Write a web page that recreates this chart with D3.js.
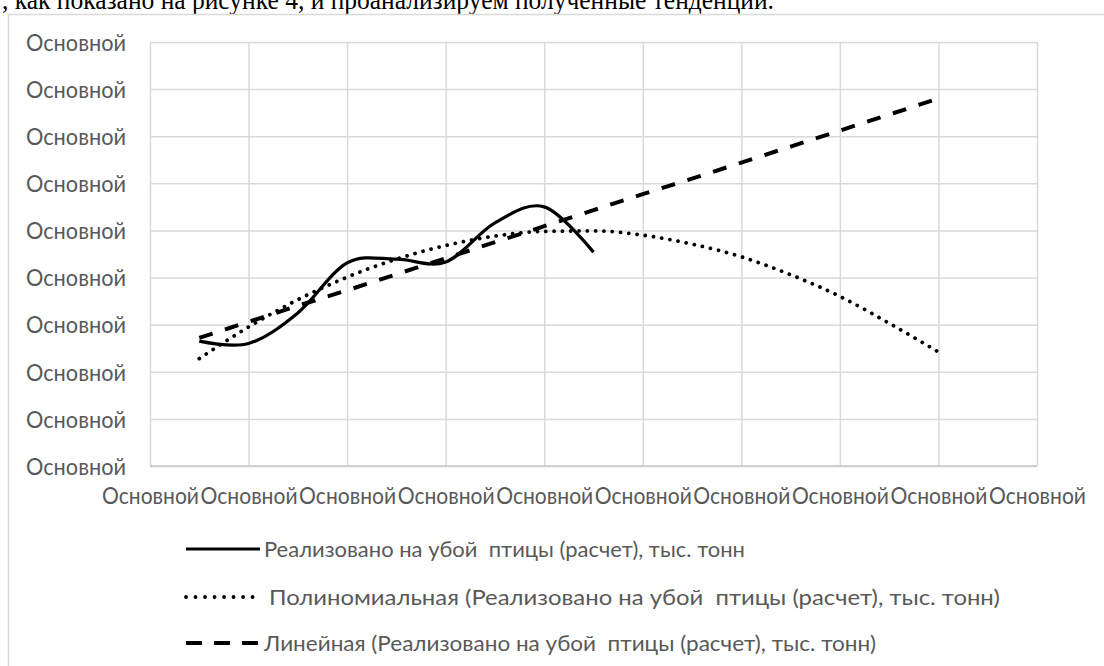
<!DOCTYPE html>
<html>
<head>
<meta charset="utf-8">
<script src="https://cdn.jsdelivr.net/npm/d3@7"></script>
<style>
  html, body { margin: 0; padding: 0; background: #fff; overflow: hidden; }
  svg { display: block; }
  text { white-space: pre; }
</style>
</head>
<body>
<svg id="chart" width="1104" height="666"></svg>
<script>
// ---- data ----
const xTickValues = [0, 2, 4, 6, 8, 10, 12, 14, 16, 18];
const xTickLabels = ["Основной","Основной","Основной","Основной","Основной","Основной","Основной","Основной","Основной","Основной"];
const yTickValues = [0, 1, 2, 3, 4, 5, 6, 7, 8, 9];
const yTickLabels = ["Основной","Основной","Основной","Основной","Основной","Основной","Основной","Основной","Основной","Основной"];

const periods = [1, 2, 3, 4, 5, 6, 7, 8, 9];
const actualValues = [2.65, 2.60, 3.25, 4.31, 4.39, 4.33, 5.16, 5.50, 4.54];

const trendPeriods = [1, 2, 3, 4, 5, 6, 7, 8, 9, 10, 11, 12, 13, 14, 15, 16];
const polyTrendValues = [2.28, 2.95, 3.53, 4.01, 4.39, 4.68, 4.88, 4.98, 4.99, 4.90, 4.71, 4.44, 4.06, 3.60, 3.03, 2.42];
const linearTrendValues = [2.72, 3.06, 3.40, 3.73, 4.07, 4.41, 4.75, 5.09, 5.43, 5.77, 6.10, 6.44, 6.78, 7.12, 7.46, 7.80];

const seriesNames = [
  "Реализовано на убой  птицы (расчет), тыс. тонн",
  "Полиномиальная (Реализовано на убой  птицы (расчет), тыс. тонн)",
  "Линейная (Реализовано на убой  птицы (расчет), тыс. тонн)"
];
const captionText = ", как показано на рисунке 4, и проанализируем полученные тенденции.";

// ---- drawing ----
const svg = d3.select("#chart");
const labelFont = "Lato, 'Open Sans', 'DejaVu Sans', sans-serif";
const gray = "#595959";

// text line from the document above the chart (cut off by the top edge)
svg.append("text")
  .attr("x", 2).attr("y", 9)
  .attr("font-family", "'Liberation Serif', 'Times New Roman', serif")
  .attr("font-size", 27)
  .attr("fill", "#000")
  .attr("textLength", 772).attr("lengthAdjust", "spacingAndGlyphs")
  .text(captionText);

// chart area border
svg.append("rect")
  .attr("x", 8.5).attr("y", 14.5)
  .attr("width", 1200).attr("height", 800)
  .attr("fill", "#fff")
  .attr("stroke", "#d9d9d9").attr("stroke-width", 1.5);

const x = d3.scaleLinear().domain([0, 18]).range([150, 1037]);
const y = d3.scaleLinear().domain([0, 9]).range([466, 42]);

// gridlines
const gridX = d3.axisBottom(x).tickValues(xTickValues).tickSize(-(466 - 42)).tickFormat("");
const gridY = d3.axisLeft(y).tickValues(yTickValues).tickSize(-(1037 - 150)).tickFormat("");
const gx = svg.append("g").attr("transform", "translate(0,466)").call(gridX);
const gy = svg.append("g").attr("transform", "translate(150,0)").call(gridY);
[gx, gy].forEach(g => {
  g.select(".domain").remove();
  g.selectAll(".tick line").attr("stroke", "#d9d9d9").attr("stroke-width", 1.5);
});
// horizontal axis line
svg.append("line")
  .attr("x1", x(0)).attr("x2", x(18))
  .attr("y1", y(0)).attr("y2", y(0))
  .attr("stroke", "#c6c6c6").attr("stroke-width", 1.5);

// axis labels
const xAxis = d3.axisBottom(x).tickValues(xTickValues)
  .tickSize(0).tickPadding(0)
  .tickFormat((d, i) => xTickLabels[i]);
const xa = svg.append("g").attr("transform", "translate(0,466)").call(xAxis);
xa.select(".domain").remove();
xa.selectAll(".tick text")
  .attr("y", 38).attr("dy", 0)
  .attr("font-family", labelFont).attr("font-size", 24)
  .attr("fill", gray)
  .attr("textLength", 97).attr("lengthAdjust", "spacingAndGlyphs");

const yAxis = d3.axisLeft(y).tickValues(yTickValues)
  .tickSize(0).tickPadding(0)
  .tickFormat((d, i) => yTickLabels[i]);
const ya = svg.append("g").attr("transform", "translate(126,0)").call(yAxis);
ya.select(".domain").remove();
ya.selectAll(".tick text")
  .attr("x", 0).attr("dy", "0.36em")
  .attr("font-family", labelFont).attr("font-size", 23)
  .attr("fill", gray)
  .attr("textLength", 100).attr("lengthAdjust", "spacingAndGlyphs");

// series
const smoothLine = d3.line().x(d => x(d[0])).y(d => y(d[1])).curve(d3.curveCatmullRom.alpha(0));
const trendLine = d3.line().x(d => x(d[0])).y(d => y(d[1])).curve(d3.curveMonotoneX);

svg.append("path")
  .datum(d3.zip(trendPeriods, linearTrendValues))
  .attr("d", trendLine)
  .attr("fill", "none").attr("stroke", "#000")
  .attr("stroke-width", 4).attr("stroke-dasharray", "14 13");

svg.append("path")
  .datum(d3.zip(trendPeriods, polyTrendValues))
  .attr("d", trendLine)
  .attr("fill", "none").attr("stroke", "#000")
  .attr("stroke-width", 3.8).attr("stroke-linecap", "round")
  .attr("stroke-dasharray", "0.01 8.3");

svg.append("path")
  .datum(d3.zip(periods, actualValues))
  .attr("d", smoothLine)
  .attr("fill", "none").attr("stroke", "#000")
  .attr("stroke-width", 3.2).attr("stroke-linejoin", "round");

// legend
const legendRows = [
  { y: 549, dash: null, cap: "butt", w: 3.2, textX: 264, len: 481 },
  { y: 597, dash: "0.01 9.5", cap: "round", w: 3.8, textX: 269, len: 731 },
  { y: 643, dash: "16 12", cap: "butt", w: 4, textX: 264, len: 612 }
];
const lg = svg.append("g");
legendRows.forEach((r, i) => {
  const ln = lg.append("line")
    .attr("x1", 186).attr("x2", i === 1 ? 256 : 260)
    .attr("y1", r.y).attr("y2", r.y)
    .attr("stroke", "#000").attr("stroke-width", r.w)
    .attr("stroke-linecap", r.cap);
  if (r.dash) ln.attr("stroke-dasharray", r.dash);
  lg.append("text")
    .attr("x", r.textX).attr("y", r.y).attr("dy", "0.36em")
    .attr("font-family", labelFont).attr("font-size", 21)
    .attr("fill", gray)
    .attr("textLength", r.len).attr("lengthAdjust", "spacingAndGlyphs")
    .text(seriesNames[i]);
});
</script>
</body>
</html>
